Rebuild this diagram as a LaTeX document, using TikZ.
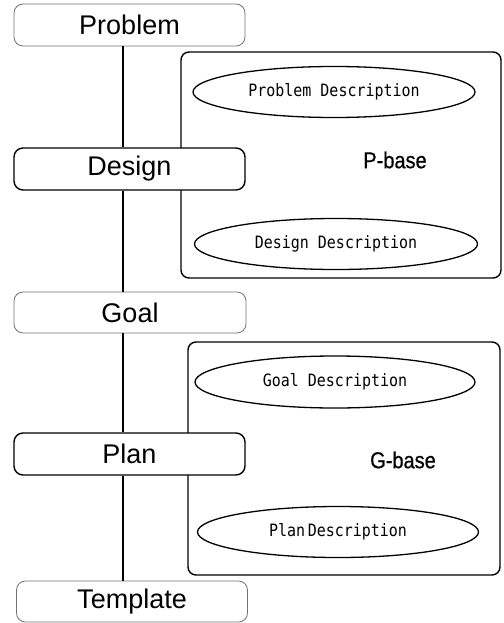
\documentclass[tikz,border=0pt]{standalone}
\usepackage{fontspec}
\setmainfont{Liberation Sans}
\newfontfamily\descfont[FakeStretch=0.88]{DejaVu Sans Mono}
\newfontfamily\basefont[FakeStretch=0.87,FakeBold=0.6]{Liberation Sans}
\usetikzlibrary{shapes.geometric}
\begin{document}
\begin{tikzpicture}[x=1pt,y=-1pt,
  stage/.style={draw=black!55, line width=0.8pt, rounded corners=9pt, fill=white,
    minimum width=231pt, minimum height=42pt, inner sep=0pt,
    font=\fontsize{27}{30}\selectfont},
  stagebold/.style={stage, draw=black, line width=1.4pt},
  basebox/.style={draw=black, line width=1.4pt, rounded corners=8pt, inner sep=0pt},
  desc/.style={ellipse, draw=black, line width=1.3pt, fill=white, inner sep=0pt,
    minimum height=51pt, font=\descfont\fontsize{17}{20}\selectfont},
  baselabel/.style={font=\basefont\fontsize{23}{26}\selectfont},
  spine/.style={draw=black, line width=1.5pt}]
\useasboundingbox (0,0) rectangle (503,623);

% knowledge bases
\node[basebox, minimum width=320pt, minimum height=226pt] (pbase) at (341,165) {};
\node[basebox, minimum width=312pt, minimum height=233pt] (gbase) at (344,458.5) {};
\node[baselabel] (pbaselabel) at (395,160) {P-base};
\node[baselabel] (gbaselabel) at (403,460) {G-base};

% descriptions
\node[desc, minimum width=282pt] (pdesc) at (334,92) {Problem Description};
\node[desc, minimum width=283pt] (ddesc) at (336,244) {Design Description};
\node[desc, minimum width=280pt, minimum height=52pt] (gdesc) at (335,382) {Goal Description};
\node[desc, minimum width=281pt] (pldesc) at (338,532) {Plan\,Description};

% stages
\node[stage] (problem) at (129.5,25) {Problem};
\node[stagebold] (design) at (129.5,169) {Design};
\node[stage, minimum height=41pt, minimum width=232pt] (goal) at (130,312.5) {Goal};
\node[stagebold] (plan) at (129.5,454) {Plan};
\node[stage, minimum height=41pt] (template) at (132,601.5) {Template};

% spine
\coordinate (X) at (123,0);
\draw[spine] (problem.south -| X) -- (design.north -| X);
\draw[spine] (design.south -| X) -- (goal.north -| X);
\draw[spine] (goal.south -| X) -- (plan.north -| X);
\draw[spine] (plan.south -| X) -- (template.north -| X);
\end{tikzpicture}
\end{document}
